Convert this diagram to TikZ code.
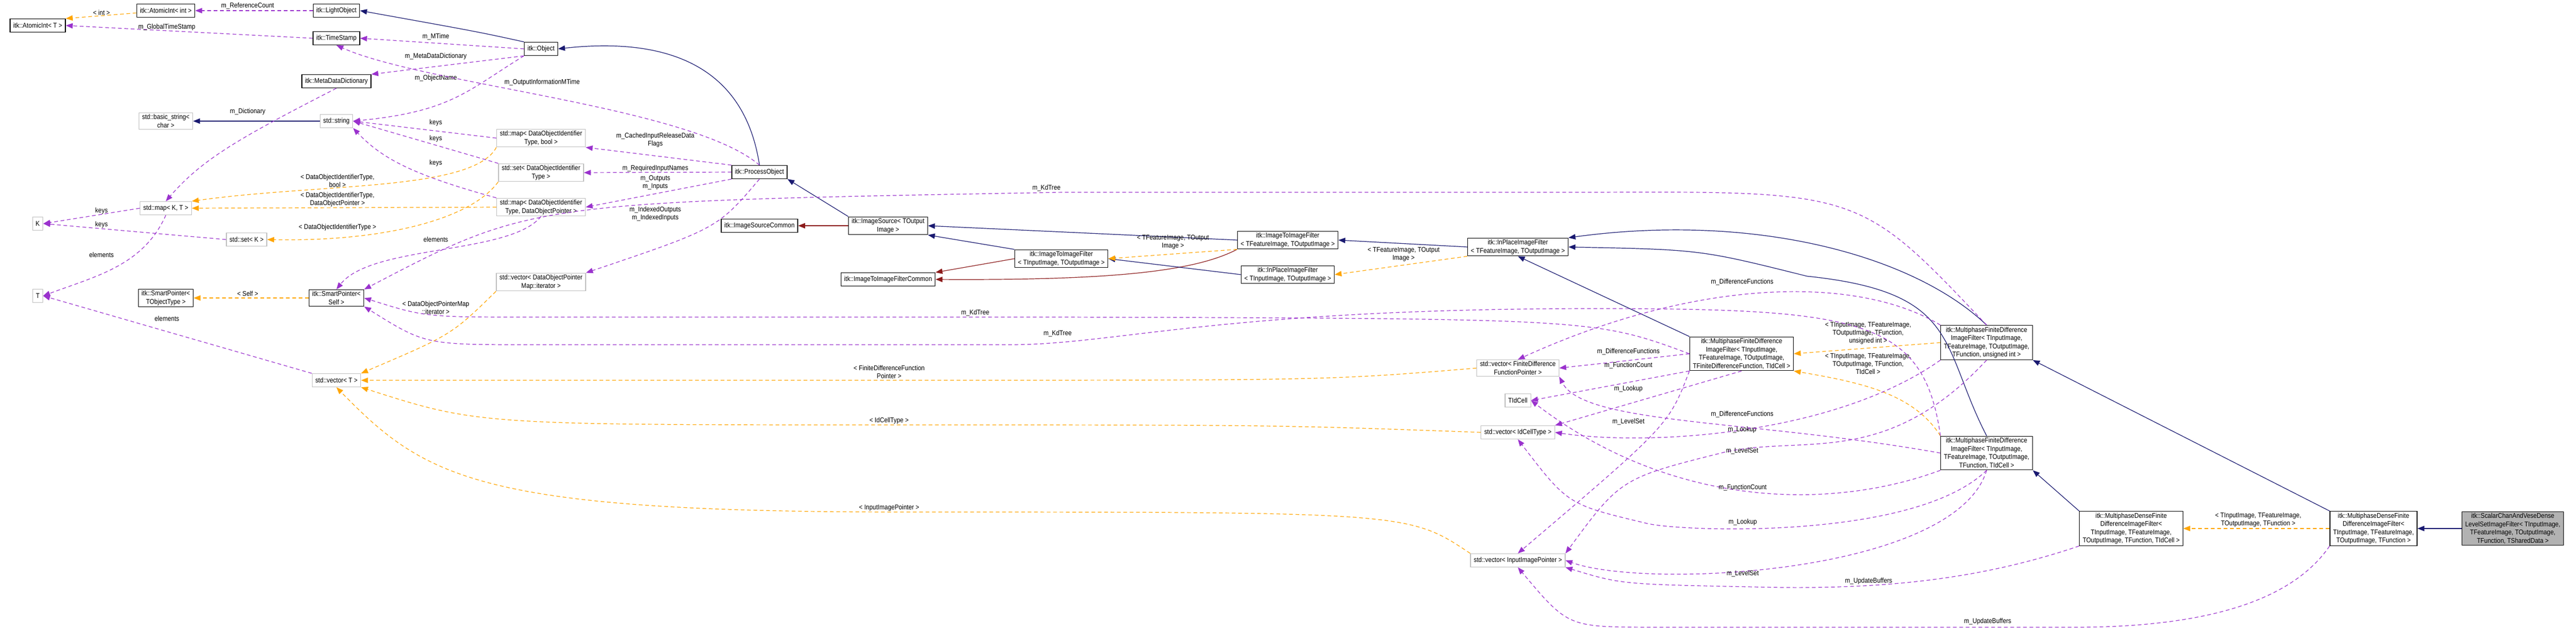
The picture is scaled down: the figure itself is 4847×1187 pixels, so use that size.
\documentclass[tikz,border=0pt]{standalone}
\usepackage{fontspec}
\setmainfont{Liberation Sans}[FakeStretch=0.88]
\usepackage{tikz}
\usetikzlibrary{arrows.meta}

\definecolor{inhcol}{HTML}{191970}
\definecolor{memcol}{HTML}{9A32CD}
\definecolor{tplcol}{HTML}{FFA500}
\definecolor{privcol}{HTML}{8B1A1A}

\tikzset{
  cls/.style={draw=black, line width=1.3pt, fill=white, align=center, inner xsep=6pt, inner ysep=3pt, minimum height=25pt, font=\fontsize{13}{15.5}\selectfont},
  ext/.style={cls, draw=black!25},
  inh/.style={draw=inhcol, line width=1.2pt, -{Triangle[length=13pt,width=10pt]}},
  priv/.style={draw=privcol, line width=1.2pt, -{Triangle[length=13pt,width=10pt]}},
  mem/.style={draw=memcol, line width=1.2pt, dash pattern=on 7pt off 5pt, -{Triangle[length=13pt,width=10pt,fill=memcol]}},
  tpl/.style={draw=tplcol, line width=1.2pt, dash pattern=on 7pt off 5pt, -{Triangle[length=13pt,width=10pt,fill=tplcol]}},
  lbl/.style={font=\fontsize{13}{15}\selectfont, align=center, inner sep=1pt, text=black}
}

\begin{document}
\begin{tikzpicture}[x=1pt, y=-1pt]
    \useasboundingbox (0,0) rectangle (4847,1187);

    % left column
    \node[cls] (atomicT) at (71,48) {itk::AtomicInt< T >};
    \node[cls] (atomicInt) at (312,20) {itk::AtomicInt< int >};
    \node[cls] (lobj) at (633,20) {itk::LightObject};
    \node[cls] (tstamp) at (633,72) {itk::TimeStamp};
    \node[cls] (obj) at (1018,92) {itk::Object};
    \node[cls] (mdd) at (633,153) {itk::MetaDataDictionary};
    \node[ext] (bstr) at (312,228) {std::basic\_string<\\char >};
    \node[ext] (str) at (633,228) {std::string};
    \node[ext] (mapKT) at (312,392) {std::map< K, T >};
    \node[ext] (K) at (71,421) {K};
    \node[ext] (setK) at (464,451) {std::set< K >};
    \node[ext] (T) at (71,557) {T};
    \node[cls] (spObj) at (312,561) {itk::SmartPointer<\\TObjectType >};
    \node[cls] (spSelf) at (633,561) {itk::SmartPointer<\\Self >};
    \node[ext] (vecT) at (633,716) {std::vector< T >};

    % containers of the process object
    \node[ext] (mapBool) at (1018,260) {std::map< DataObjectIdentifier\\Type, bool >};
    \node[ext] (setDoit) at (1018,325) {std::set< DataObjectIdentifier\\Type >};
    \node[ext] (mapDop) at (1018,390) {std::map< DataObjectIdentifier\\Type, DataObjectPointer >};
    \node[ext] (vecIt) at (1018,531) {std::vector< DataObjectPointer\\Map::iterator >};

    % pipeline classes
    \node[cls] (proc) at (1429,324) {itk::ProcessObject};
    \node[cls] (isrccom) at (1429,425) {itk::ImageSourceCommon};
    \node[cls] (isrc) at (1671,425) {itk::ImageSource< TOutput\\Image >};
    \node[cls] (itifcom) at (1671,526) {itk::ImageToImageFilterCommon};
    \node[cls] (itifIn) at (1997,487) {itk::ImageToImageFilter\\< TInputImage, TOutputImage >};
    \node[cls] (itifFeat) at (2423,452) {itk::ImageToImageFilter\\< TFeatureImage, TOutputImage >};
    \node[cls] (ipIn) at (2423,517) {itk::InPlaceImageFilter\\< TInputImage, TOutputImage >};
    \node[cls] (ipFeat) at (2856,465) {itk::InPlaceImageFilter\\< TFeatureImage, TOutputImage >};

    % member containers
    \node[ext] (vecFdfp) at (2856,693) {std::vector< FiniteDifference\\FunctionPointer >};
    \node[ext] (tid) at (2856,754) {TIdCell};
    \node[ext] (vecIdc) at (2856,814) {std::vector< IdCellType >};
    \node[ext] (vecInp) at (2856,1055) {std::vector< InputImagePointer >};

    % multiphase filters
    \node[cls] (mfdGen) at (3277,666) {itk::MultiphaseFiniteDifference\\ImageFilter< TInputImage,\\TFeatureImage, TOutputImage,\\TFiniteDifferenceFunction, TIdCell >};
    \node[cls] (mfdU) at (3738,645) {itk::MultiphaseFiniteDifference\\ImageFilter< TInputImage,\\TFeatureImage, TOutputImage,\\TFunction, unsigned int >};
    \node[cls] (mfdI) at (3738,853) {itk::MultiphaseFiniteDifference\\ImageFilter< TInputImage,\\TFeatureImage, TOutputImage,\\TFunction, TIdCell >};
    \node[cls] (mdI) at (4010,995) {itk::MultiphaseDenseFinite\\DifferenceImageFilter<\\TInputImage, TFeatureImage,\\TOutputImage, TFunction, TIdCell >};
    \node[cls] (mdF) at (4466,995) {itk::MultiphaseDenseFinite\\DifferenceImageFilter<\\TInputImage, TFeatureImage,\\TOutputImage, TFunction >};
    \node[cls, fill=black!30] (scv) at (4728,995) {itk::ScalarChanAndVeseDense\\LevelSetImageFilter< TInputImage,\\TFeatureImage, TOutputImage,\\TFunction, TSharedData >};

    % inheritance
    \draw[inh] (obj.north west) .. controls (900,60) .. (lobj.east);
    \draw[inh] (proc.north) .. controls (1400,120) and (1250,70) .. (obj.east);
    \draw[inh] (str) -- (bstr);
    \draw[inh] (isrc.north west) -- (proc.south east);
    \draw[priv] (isrc) -- (isrccom);
    \draw[inh] (itifIn.north west) -- (isrc.south east);
    \draw[priv] (itifIn.west) -- (itifcom.north east);
    \draw[inh] (itifFeat.west) -- (isrc.east);
    \draw[priv] (itifFeat.south west) .. controls (2250,510) and (2100,528) .. (itifcom.east);
    \draw[inh] (ipIn.west) -- (itifIn.east);
    \draw[inh] (ipFeat.west) -- (itifFeat.east);
    \draw[inh] (mfdGen.north west) -- (ipFeat.south);
    \draw[inh] (mfdU.north) .. controls (3600,480) and (3300,400) .. (ipFeat.north east);
    \draw[inh] (mfdI.north) .. controls (3650,650) and (3690,550) .. (3400,520) .. controls (3200,470) .. (ipFeat.east);
    \draw[inh] (mdI.north west) -- (mfdI.south east);
    \draw[inh] (mdF.north west) -- (mfdU.south east);
    \draw[inh] (scv) -- (mdF);

    % template instances
    \draw[tpl] (atomicInt) -- (atomicT.north east) node[lbl] at (191,24) {< int >};
    \draw[tpl] (spSelf) -- (spObj) node[lbl] at (466,553) {< Self >};
    \draw[tpl] (mapBool.south west) .. controls (890,360) and (600,345) .. (mapKT.north east) node[lbl] at (635,340) {< DataObjectIdentifierType,\\bool >};
    \draw[tpl] (mapDop.west) -- (mapKT.east) node[lbl] at (635,376) {< DataObjectIdentifierType,\\DataObjectPointer >};
    \draw[tpl] (setDoit.south west) .. controls (880,420) and (700,455) .. (setK.east) node[lbl] at (635,428) {< DataObjectIdentifierType >};
    \draw[tpl] (vecIt.south west) .. controls (850,630) .. (vecT.north east) node[lbl] at (820,579) {< DataObjectPointerMap\\::iterator >};
    \draw[tpl] (itifFeat.south west) -- (itifIn.east) node[lbl] at (2207,456) {< TFeatureImage, TOutput\\Image >};
    \draw[tpl] (ipFeat.south west) -- (ipIn.east) node[lbl] at (2641,479) {< TFeatureImage, TOutput\\Image >};
    \draw[tpl] (mfdU.west) -- (mfdGen.east) node[lbl] at (3515,627) {< TInputImage, TFeatureImage,\\TOutputImage, TFunction,\\unsigned int >};
    \draw[tpl] (mfdI.north west) .. controls (3600,740) and (3500,720) .. (mfdGen.south east) node[lbl] at (3515,685) {< TInputImage, TFeatureImage,\\TOutputImage, TFunction,\\TIdCell >};
    \draw[tpl] (mdF.west) -- (mdI.east) node[lbl] at (4249,979) {< TInputImage, TFeatureImage,\\TOutputImage, TFunction >};
    \draw[tpl] (vecFdfp.west) .. controls (2500,716) .. (1700,716) -- (vecT.east) node[lbl] at (1673,700) {< FiniteDifferenceFunction\\Pointer >};
    \draw[tpl] (vecIdc.west) .. controls (2400,800) .. (1700,800) .. controls (900,800) .. (vecT.south east) node[lbl] at (1673,792) {< IdCellType >};
    \draw[tpl] (vecInp.north west) .. controls (2650,964) .. (1700,964) .. controls (900,964) and (800,900) .. (vecT.south) node[lbl] at (1673,956) {< InputImagePointer >};

    % members
    \draw[mem] (lobj) -- (atomicInt) node[lbl] at (466,11) {m\_ReferenceCount};
    \draw[mem] (tstamp.west) -- (atomicT.east) node[lbl] at (314,51) {m\_GlobalTimeStamp};
    \draw[mem] (obj.west) -- (tstamp.east) node[lbl] at (820,69) {m\_MTime};
    \draw[mem] (obj.south west) -- (mdd.north east) node[lbl] at (820,106) {m\_MetaDataDictionary};
    \draw[mem] (obj.south west) .. controls (880,170) and (850,210) .. (str.east) node[lbl] at (820,147) {m\_ObjectName};
    \draw[mem] (proc.north) .. controls (1300,200) and (800,160) .. (tstamp.south) node[lbl] at (1020,155) {m\_OutputInformationMTime};
    \draw[mem] (mdd.south) .. controls (450,260) and (380,300) .. (mapKT.north) node[lbl] at (466,210) {m\_Dictionary};
    \draw[mem] (mapBool.west) -- (str.east) node[lbl] at (820,231) {keys};
    \draw[mem] (setDoit.north west) -- (str.east) node[lbl] at (820,261) {keys};
    \draw[mem] (mapDop.north west) .. controls (780,330) and (720,300) .. (str.south east) node[lbl] at (820,307) {keys};
    \draw[mem] (mapKT.west) -- (K.east) node[lbl] at (191,397) {keys};
    \draw[mem] (setK.west) -- (K.east) node[lbl] at (191,423) {keys};
    \draw[mem] (mapKT.south) .. controls (270,500) and (180,520) .. (T.east) node[lbl] at (191,480) {elements};
    \draw[mem] (vecT.north west) -- (T.east) node[lbl] at (314,600) {elements};
    \draw[mem] (mapDop.south) .. controls (960,480) and (700,460) .. (spSelf.north) node[lbl] at (820,451) {elements};
    \draw[mem] (proc.north west) -- (mapBool.south east) node[lbl] at (1233,264) {m\_CachedInputReleaseData\\Flags};
    \draw[mem] (proc.west) -- (setDoit.east) node[lbl] at (1233,317) {m\_RequiredInputNames};
    \draw[mem] (proc.south west) -- (mapDop.east) node[lbl] at (1233,344) {m\_Outputs\\m\_Inputs};
    \draw[mem] (proc.south) .. controls (1350,430) .. (vecIt.north east) node[lbl] at (1233,403) {m\_IndexedOutputs\\m\_IndexedInputs};
    \draw[mem] (mfdU.north) .. controls (3500,360) .. (3000,362) -- (2000,362) .. controls (1000,380) .. (spSelf.north east) node[lbl] at (1969,354) {m\_KdTree};
    \draw[mem] (mfdGen.west) .. controls (3000,600) .. (2000,597) -- (1000,597) .. controls (800,597) .. (spSelf.east) node[lbl] at (1835,589) {m\_KdTree};
    \draw[mem] (mfdI.north west) .. controls (3620,600) and (3500,581) .. (3000,581) .. controls (2300,581) and (2100,649) .. (1900,649) -- (1000,649) .. controls (800,649) .. (spSelf.south east) node[lbl] at (1990,628) {m\_KdTree};
    \draw[mem] (mfdGen.west) -- (vecFdfp.east) node[lbl] at (3064,662) {m\_DifferenceFunctions};
    \draw[mem] (mfdGen.south west) -- (tid.east) node[lbl] at (3064,688) {m\_FunctionCount};
    \draw[mem] (mfdGen.south) -- (vecIdc.north east) node[lbl] at (3064,732) {m\_Lookup};
    \draw[mem] (mfdGen.south west) .. controls (3140,800) .. (vecInp.north) node[lbl] at (3064,794) {m\_LevelSet};
    \draw[mem] (mfdU.north west) .. controls (3500,520) and (3200,520) .. (vecFdfp.north) node[lbl] at (3278,531) {m\_DifferenceFunctions};
    \draw[mem] (mfdU.south west) .. controls (3450,820) and (3100,840) .. (vecIdc.east) node[lbl] at (3278,809) {m\_Lookup};
    \draw[mem] (mfdU.south) .. controls (3550,880) and (3400,820) .. (3250,850) .. controls (3050,900) .. (vecInp.north east) node[lbl] at (3278,849) {m\_LevelSet};
    \draw[mem] (mfdI.west) .. controls (3300,790) and (2980,800) .. (vecFdfp.south east) node[lbl] at (3278,780) {m\_DifferenceFunctions};
    \draw[mem] (mfdI.south west) .. controls (3450,960) and (3150,960) .. (tid.east) node[lbl] at (3279,918) {m\_FunctionCount};
    \draw[mem] (mfdI.south) .. controls (3600,1020) and (3150,1000) .. (3097,985) .. controls (2950,950) .. (vecIdc.south) node[lbl] at (3279,983) {m\_Lookup};
    \draw[mem] (mfdI.south) .. controls (3680,1080) and (3100,1110) .. (vecInp.east) node[lbl] at (3279,1080) {m\_LevelSet};
    \draw[mem] (mdI.south west) .. controls (3700,1100) and (3500,1110) .. (3300,1105) .. controls (3050,1100) .. (vecInp.south east) node[lbl] at (3516,1094) {m\_UpdateBuffers};
    \draw[mem] (mdF.south west) .. controls (4300,1150) and (4100,1181) .. (3900,1181) -- (3100,1181) .. controls (2950,1180) .. (vecInp.south) node[lbl] at (3740,1170) {m\_UpdateBuffers};
\end{tikzpicture}
\end{document}
